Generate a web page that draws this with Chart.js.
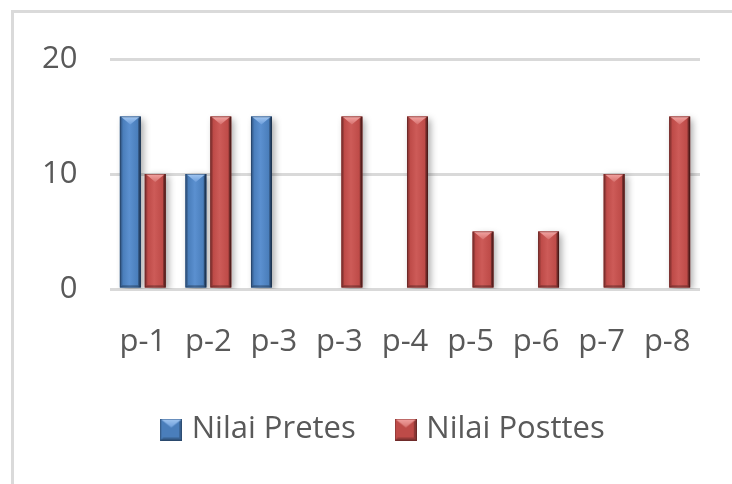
<!DOCTYPE html>
<html>
<head>
<meta charset="utf-8">
<script src="https://cdn.jsdelivr.net/npm/chart.js@4.4.1/dist/chart.umd.min.js"></script>
<style>
  html, body { margin: 0; padding: 0; background: #fff; overflow: hidden; width: 732px; height: 484px; }
  #frame { position: absolute; left: 11px; top: 10px; width: 820px; height: 600px; border: 3px solid #dadada; box-sizing: border-box; }
  #wrap { position: absolute; left: 0; top: 0; width: 732px; height: 484px; }
</style>
</head>
<body>
<div id="frame"></div>
<div id="wrap"><canvas id="chart" width="732" height="484"></canvas></div>
<script>
// Scores per participant
const categories = ['p-1', 'p-2', 'p-3', 'p-3', 'p-4', 'p-5', 'p-6', 'p-7', 'p-8'];
const pretes = [15, 10, 15, 0, 0, 0, 0, 0, 0];
const posttes = [10, 15, 0, 15, 15, 5, 5, 10, 15];
const seriesNames = ['Nilai Pretes', 'Nilai Posttes'];
const yMin = 0, yMax = 20, yStep = 10;

const TEXT = '#595959';
const FONT = { family: "'Open Sans', 'Liberation Sans', sans-serif", size: 31 };

const palettes = [
  { main: '#4a7ebb', light: '#5b90d0', dark: '#3a659c', darker: '#2a4b78', top1: '#a4c8f2', top2: '#6d9edb' },
  { main: '#be4b48', light: '#cd5b58', dark: '#9c3a38', darker: '#762927', top1: '#f4a5a3', top2: '#d6716e' }
];

function poly(ctx, pts, fill) {
  ctx.beginPath();
  ctx.moveTo(pts[0][0], pts[0][1]);
  for (let i = 1; i < pts.length; i++) ctx.lineTo(pts[i][0], pts[i][1]);
  ctx.closePath();
  ctx.fillStyle = fill;
  ctx.fill();
}

// Bevelled column face: side shading, light top facet, darker edges
function paintBevel(ctx, l, t, w, h, p) {
  const r = l + w, b = t + h, cx = l + w / 2;
  const g = ctx.createLinearGradient(l, 0, r, 0);
  g.addColorStop(0, p.dark);
  g.addColorStop(0.15, p.main);
  g.addColorStop(0.45, p.light);
  g.addColorStop(0.85, p.main);
  g.addColorStop(1, p.darker);
  ctx.fillStyle = g;
  ctx.fillRect(l, t, w, h);
  const e = 2.5;
  poly(ctx, [[l, t], [l + e, t + e], [l + e, b - e], [l, b]], 'rgba(0,0,0,0.12)');
  poly(ctx, [[r, t], [r - e, t + e], [r - e, b - e], [r, b]], 'rgba(0,0,0,0.28)');
  poly(ctx, [[l, b], [l + e, b - e], [r - e, b - e], [r, b]], 'rgba(0,0,0,0.2)');
  const d = Math.min(w * 0.38, h / 2);
  const tg = ctx.createLinearGradient(0, t, 0, t + d);
  tg.addColorStop(0, p.top1);
  tg.addColorStop(1, p.top2);
  poly(ctx, [[l + 1.5, t + 0.5], [r - 1.5, t + 0.5], [cx, t + d]], tg);
  ctx.strokeStyle = 'rgba(0,0,0,0.22)';
  ctx.lineWidth = 1;
  ctx.strokeRect(l + 0.5, t + 0.5, w - 1, h - 1);
}

function markerCanvas(p) {
  const s = 22;
  const c = document.createElement('canvas');
  c.width = s; c.height = s;
  const x = c.getContext('2d');
  x.fillStyle = p.main;
  x.fillRect(0, 0, s, s);
  poly(x, [[s, 0], [s - 3, 3], [s - 3, s - 3], [s, s]], 'rgba(0,0,0,0.25)');
  poly(x, [[0, s], [3, s - 3], [s - 3, s - 3], [s, s]], 'rgba(0,0,0,0.22)');
  const tg = x.createLinearGradient(0, 0, 0, 9);
  tg.addColorStop(0, p.top1);
  tg.addColorStop(1, p.top2);
  poly(x, [[1, 1], [s - 1, 1], [s / 2, 9]], tg);
  x.strokeStyle = 'rgba(0,0,0,0.25)';
  x.strokeRect(0.5, 0.5, s - 1, s - 1);
  return c;
}
const markers = palettes.map(markerCanvas);

const bevelPlugin = {
  id: 'bevel',
  beforeDatasetsDraw(chart) {
    const ctx = chart.ctx;
    ctx.save();
    ctx.shadowColor = 'rgba(0,0,0,0.35)';
    ctx.shadowBlur = 7;
    ctx.shadowOffsetX = 3;
    ctx.shadowOffsetY = 2;
  },
  afterDatasetsDraw(chart) {
    const ctx = chart.ctx;
    ctx.restore();
    chart.data.datasets.forEach((ds, di) => {
      const meta = chart.getDatasetMeta(di);
      meta.data.forEach(bar => {
        const { x, y, base, width } = bar.getProps(['x', 'y', 'base', 'width'], true);
        const h = base - y;
        if (h < 1) return;
        paintBevel(ctx, x - width / 2, y, width, h, palettes[di]);
      });
    });
  }
};

new Chart(document.getElementById('chart'), {
  type: 'bar',
  data: {
    labels: categories,
    datasets: [
      { label: seriesNames[0], data: pretes, backgroundColor: palettes[0].main, borderWidth: 0 },
      { label: seriesNames[1], data: posttes, backgroundColor: palettes[1].main, borderWidth: 0 }
    ]
  },
  options: {
    responsive: false,
    animation: false,
    devicePixelRatio: 1,
    categoryPercentage: 0.76,
    barPercentage: 0.84,
    layout: { padding: { left: 71, right: 32, top: 59, bottom: 29 } },
    scales: {
      x: {
        grid: { display: false },
        border: { display: false },
        ticks: { color: TEXT, font: FONT, padding: 27, maxRotation: 0, autoSkip: false },
        afterFit(s) { s.height = 80; }
      },
      y: {
        min: yMin, max: yMax,
        grid: { color: '#d9d9d9', lineWidth: 3, drawTicks: false },
        border: { display: false },
        ticks: { stepSize: yStep, color: TEXT, font: FONT, mirror: true, crossAlign: 'far', padding: -68 },
        afterFit(s) { s.width = 39; }
      }
    },
    plugins: {
      tooltip: { enabled: false },
      legend: {
        position: 'bottom',
        labels: {
          color: TEXT,
          font: FONT,
          usePointStyle: true,
          boxWidth: 10,
          padding: 45,
          generateLabels(chart) {
            const items = Chart.defaults.plugins.legend.labels.generateLabels(chart);
            items.forEach((it, i) => { it.pointStyle = markers[i]; });
            return items;
          }
        }
      }
    }
  },
  plugins: [bevelPlugin]
});
</script>
</body>
</html>
